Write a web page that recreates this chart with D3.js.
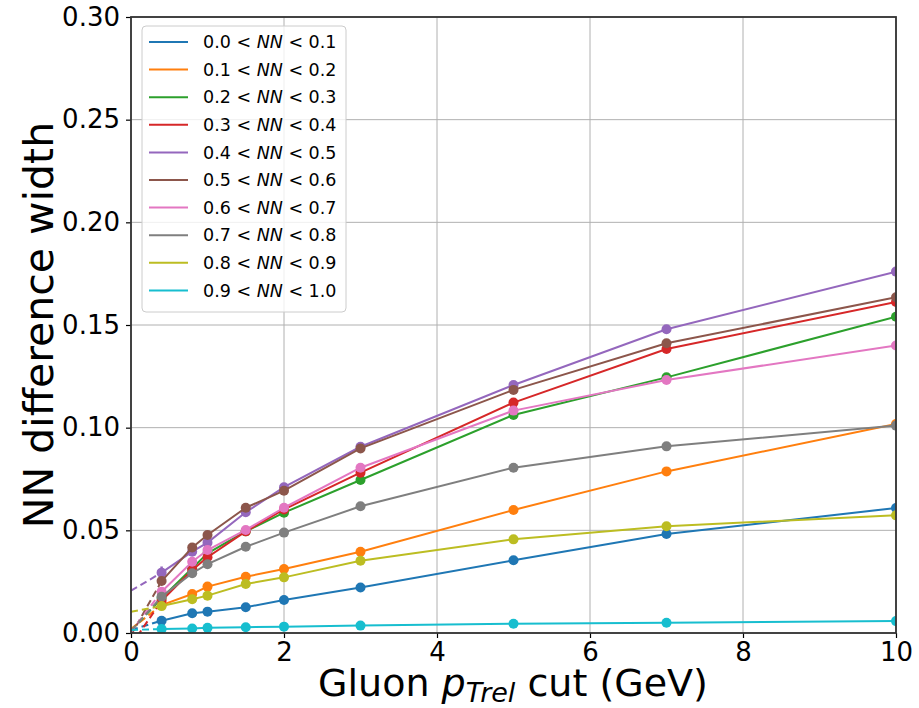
<!DOCTYPE html>
<html>
<head>
<meta charset="utf-8">
<script src="https://cdn.jsdelivr.net/npm/d3@7"></script>
<style>
  body { margin: 0; background: #fff; }
  svg { display: block; font-family: "DejaVu Sans", sans-serif; }
</style>
</head>
<body>
<script>
// pTrel cut values (GeV)
var cuts = [0.4, 0.8, 1.0, 1.5, 2, 3, 5, 7, 10];

// NN bin edges for legend
var binLow  = ["0.0", "0.1", "0.2", "0.3", "0.4", "0.5", "0.6", "0.7", "0.8", "0.9"];
var binHigh = ["0.1", "0.2", "0.3", "0.4", "0.5", "0.6", "0.7", "0.8", "0.9", "1.0"];

// width per bin
var nn00 = [0.0060, 0.0096, 0.0104, 0.0125, 0.0161, 0.0222, 0.0354, 0.0482, 0.0609];
var nn01 = [0.0136, 0.0190, 0.0226, 0.0274, 0.0312, 0.0396, 0.0599, 0.0787, 0.1018];
var nn02 = [0.0170, 0.0315, 0.0388, 0.0495, 0.0586, 0.0745, 0.1062, 0.1245, 0.1540];
var nn03 = [0.0157, 0.0307, 0.0369, 0.0495, 0.0602, 0.0781, 0.1122, 0.1383, 0.1612];
var nn04 = [0.0294, 0.0396, 0.0440, 0.0588, 0.0710, 0.0907, 0.1208, 0.1479, 0.1760];
var nn05 = [0.0253, 0.0416, 0.0477, 0.0610, 0.0693, 0.0899, 0.1184, 0.1411, 0.1635];
var nn06 = [0.0201, 0.0347, 0.0404, 0.0502, 0.0610, 0.0805, 0.1083, 0.1232, 0.1400];
var nn07 = [0.0177, 0.0291, 0.0335, 0.0420, 0.0489, 0.0617, 0.0805, 0.0909, 0.1010];
var nn08 = [0.0131, 0.0164, 0.0182, 0.0239, 0.0271, 0.0352, 0.0456, 0.0520, 0.0573];
var nn09 = [0.0019, 0.0022, 0.0025, 0.0028, 0.0031, 0.0036, 0.0045, 0.0050, 0.0058];

// error bars (half-widths), small
var err00 = [0.0005, 0.0005, 0.0005, 0.0005, 0.0005, 0.0005, 0.0005, 0.0007, 0.0010];
var err01 = [0.0005, 0.0005, 0.0005, 0.0005, 0.0005, 0.0005, 0.0006, 0.0008, 0.0010];
var err02 = [0.0008, 0.0007, 0.0007, 0.0007, 0.0007, 0.0008, 0.0010, 0.0012, 0.0018];
var err03 = [0.0008, 0.0007, 0.0008, 0.0007, 0.0007, 0.0008, 0.0010, 0.0015, 0.0018];
var err04 = [0.0030, 0.0012, 0.0012, 0.0010, 0.0010, 0.0010, 0.0010, 0.0015, 0.0020];
var err05 = [0.0020, 0.0010, 0.0010, 0.0010, 0.0010, 0.0010, 0.0010, 0.0015, 0.0020];
var err06 = [0.0008, 0.0008, 0.0008, 0.0008, 0.0008, 0.0008, 0.0010, 0.0010, 0.0012];
var err07 = [0.0006, 0.0006, 0.0006, 0.0006, 0.0006, 0.0006, 0.0007, 0.0008, 0.0010];
var err08 = [0.0005, 0.0005, 0.0005, 0.0005, 0.0005, 0.0005, 0.0005, 0.0006, 0.0008];
var err09 = [0.0002, 0.0002, 0.0002, 0.0002, 0.0002, 0.0002, 0.0002, 0.0002, 0.0002];

// dashed extrapolation value at pTrel = 0
var atZero = [0.0015, 0.0020, 0.0010, -0.0060, 0.0206, -0.0010, 0.0005, 0.0010, 0.0104, 0.0015];

var xTicks = [0, 2, 4, 6, 8, 10];
var yTicks = [0.00, 0.05, 0.10, 0.15, 0.20, 0.25, 0.30];

var colors = ['#1f77b4', '#ff7f0e', '#2ca02c', '#d62728', '#9467bd',
              '#8c564b', '#e377c2', '#7f7f7f', '#bcbd22', '#17becf'];

var values = [nn00, nn01, nn02, nn03, nn04, nn05, nn06, nn07, nn08, nn09];
var errors = [err00, err01, err02, err03, err04, err05, err06, err07, err08, err09];

var width = 919, height = 708;
var margin = {left: 131, right: 23, top: 17, bottom: 75};
var plotW = width - margin.left - margin.right,
    plotH = height - margin.top - margin.bottom;

var x = d3.scaleLinear().domain([0, 10]).range([0, plotW]);
var y = d3.scaleLinear().domain([0, 0.30]).range([plotH, 0]);

var svg = d3.select("body").append("svg")
    .attr("width", width)
    .attr("height", height);

var g = svg.append("g")
    .attr("transform", "translate(" + margin.left + "," + margin.top + ")");

svg.append("defs").append("clipPath")
    .attr("id", "plotclip")
  .append("rect")
    .attr("width", plotW)
    .attr("height", plotH);

// grid
g.append("g").selectAll("line")
    .data(xTicks).enter().append("line")
      .attr("x1", d => x(d)).attr("x2", d => x(d))
      .attr("y1", 0).attr("y2", plotH)
      .style("stroke", "#b0b0b0").style("stroke-width", 1);
g.append("g").selectAll("line")
    .data(yTicks).enter().append("line")
      .attr("x1", 0).attr("x2", plotW)
      .attr("y1", d => y(d)).attr("y2", d => y(d))
      .style("stroke", "#b0b0b0").style("stroke-width", 1);

// series
var plot = g.append("g").attr("clip-path", "url(#plotclip)");
var line = d3.line().x(d => x(d[0])).y(d => y(d[1]));

values.forEach(function(vals, i) {
    var pts = cuts.map((c, j) => [c, vals[j]]);
    var s = plot.append("g");
    // dashed extrapolation to zero
    s.append("path")
        .attr("d", line([[0, atZero[i]], pts[0]]))
        .style("fill", "none")
        .style("stroke", colors[i])
        .style("stroke-width", 2)
        .style("stroke-dasharray", "7,4");
    s.append("path")
        .attr("d", line(pts))
        .style("fill", "none")
        .style("stroke", colors[i])
        .style("stroke-width", 2);
    s.selectAll("line.err")
        .data(pts).enter().append("line")
          .attr("class", "err")
          .attr("x1", d => x(d[0])).attr("x2", d => x(d[0]))
          .attr("y1", (d, j) => y(d[1] - errors[i][j]))
          .attr("y2", (d, j) => y(d[1] + errors[i][j]))
          .style("stroke", colors[i])
          .style("stroke-width", 2.5);
    s.selectAll("circle")
        .data(pts).enter().append("circle")
          .attr("cx", d => x(d[0]))
          .attr("cy", d => y(d[1]))
          .attr("r", 5)
          .style("fill", colors[i]);
});

// axes
var xAxis = g.append("g")
    .attr("transform", "translate(0," + plotH + ")")
    .call(d3.axisBottom(x).tickValues(xTicks).tickSize(5).tickPadding(5).tickFormat(d3.format("d")));
var yAxis = g.append("g")
    .call(d3.axisLeft(y).tickValues(yTicks).tickSize(5).tickPadding(6).tickFormat(d3.format(".2f")));

[xAxis, yAxis].forEach(function(ax) {
    ax.select(".domain").remove();
    ax.selectAll("line").style("stroke", "#000").style("stroke-width", 1.2);
    ax.selectAll("text")
        .style("font-family", "DejaVu Sans")
        .style("font-size", "26px")
        .style("fill", "#000");
});

// frame
g.append("rect")
    .attr("width", plotW)
    .attr("height", plotH)
    .style("fill", "none")
    .style("stroke", "#333")
    .style("stroke-width", 1.8);

// axis labels
var xl = svg.append("text")
    .attr("x", 513)
    .attr("y", 696)
    .attr("text-anchor", "middle")
    .style("font-size", "38px")
    .style("fill", "#000");
xl.append("tspan").text("Gluon ");
xl.append("tspan").style("font-style", "italic").text("p");
xl.append("tspan").style("font-style", "italic").style("font-size", "27px")
    .attr("dy", 6).text("Trel");
xl.append("tspan").attr("dy", -6).text(" cut (GeV)");

svg.append("text")
    .attr("transform", "translate(53," + (margin.top + plotH / 2) + ") rotate(-90)")
    .attr("text-anchor", "middle")
    .style("font-size", "41px")
    .style("fill", "#000")
    .text("NN difference width");

// legend
var leg = g.append("g").attr("transform", "translate(11,9)");
leg.append("rect")
    .attr("width", 204)
    .attr("height", 286)
    .attr("rx", 4)
    .style("fill", "#fff")
    .style("fill-opacity", 0.8)
    .style("stroke", "#cccccc")
    .style("stroke-width", 1);

var rows = leg.selectAll("g.row")
    .data(colors).enter().append("g")
      .attr("class", "row")
      .attr("transform", (d, i) => "translate(0," + (16 + i * 27.6) + ")");
rows.append("line")
    .attr("x1", 7).attr("x2", 46)
    .style("stroke", d => d)
    .style("stroke-width", 2);
var lt = rows.append("text")
    .attr("x", 61)
    .attr("dy", "0.35em")
    .style("font-size", "17.5px")
    .style("fill", "#000");
lt.append("tspan").text((d, i) => binLow[i] + " < ");
lt.append("tspan").style("font-style", "italic").text("NN");
lt.append("tspan").text((d, i) => " < " + binHigh[i]);
</script>
</body>
</html>
